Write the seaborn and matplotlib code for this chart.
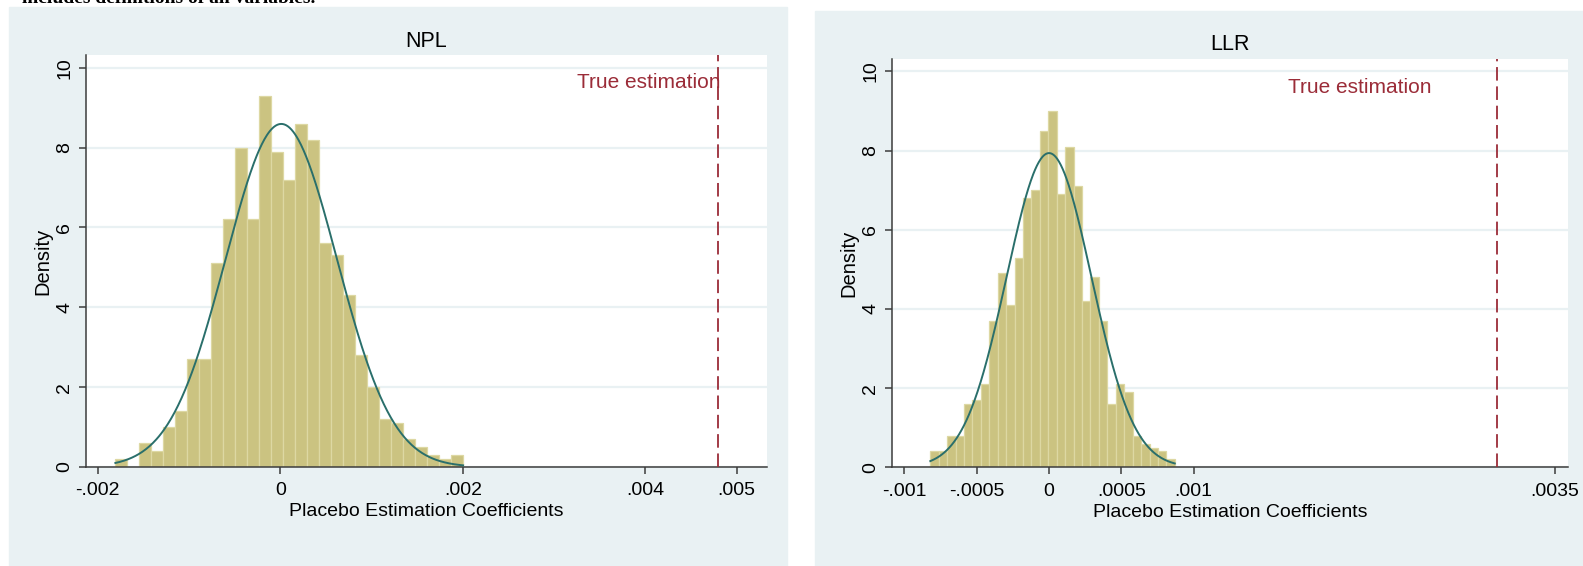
import numpy as np
import pandas as pd
import matplotlib
matplotlib.use('Agg')
import matplotlib.pyplot as plt
import seaborn as sns
from matplotlib.patches import Rectangle

# --- data ------------------------------------------------------------------
# NPL: 29 bins, density per bin
npl_bin_start = -0.001808
npl_bin_width = 0.0001314
npl_density = [0.2, 0.0, 0.6, 0.4, 1.0, 1.4, 2.7, 2.7, 5.1, 6.2,
               8.0, 6.2, 9.3, 7.9, 7.2, 8.6, 8.2, 5.6, 5.3, 4.3,
               2.8, 2.0, 1.2, 1.1, 0.7, 0.5, 0.3, 0.2, 0.3]
npl_mean = 0.00001
npl_sd = 0.00061
npl_true = 0.0048
npl_xticks = [-0.002, 0, 0.002, 0.004, 0.005]
npl_xticklabels = ['-.002', '0', '.002', '.004', '.005']

# LLR: 29 bins, density per bin
llr_bin_start = -0.000821
llr_bin_width = 0.0000583
llr_density = [0.4, 0.4, 0.8, 0.8, 1.6, 1.7, 2.1, 3.7, 4.9, 4.1,
               5.3, 6.8, 7.0, 8.5, 9.0, 6.9, 8.1, 7.1, 4.2, 4.8,
               3.7, 1.6, 2.1, 1.9, 0.8, 0.6, 0.5, 0.4, 0.2]
llr_mean = 0.0
llr_sd = 0.000293
llr_true = 0.0031
llr_xticks = [-0.001, -0.0005, 0, 0.0005, 0.001, 0.0035]
llr_xticklabels = ['-.001', '-.0005', '0', '.0005', '.001', '.0035']

yticks = [0, 2, 4, 6, 8, 10]

# --- style -----------------------------------------------------------------
BG = '#E9F1F3'
BAR = '#CBC381'
EDGE = '#DDD8A3'
CURVE = '#2A6F6B'
RED = '#9B2C38'
AXC = '#3C3C3C'

plt.rcParams['font.family'] = ['Liberation Sans', 'DejaVu Sans']

W, H = 1583, 566
fig = plt.figure(figsize=(W / 100, H / 100), dpi=100, facecolor='white')

# Stata-like graph regions
fig.patches.append(Rectangle((9 / W, 0), (787 - 9) / W, (H - 7) / H,
                             transform=fig.transFigure, color=BG, zorder=-5))
fig.patches.append(Rectangle((815 / W, 0), (W - 815) / W, (H - 11) / H,
                             transform=fig.transFigure, color=BG, zorder=-5))

# cut-off line of body text above the figure
fig.text(22 / W, 1 - 3 / H, 'includes definitions of all variables.',
         family='Liberation Serif', fontsize=14, weight='bold',
         va='baseline', ha='left')

ax1 = fig.add_axes([86 / W, 1 - 467 / H, (767 - 86) / W, (467 - 55) / H])
ax2 = fig.add_axes([892 / W, 1 - 467.3 / H, (1568 - 892) / W, (467.3 - 58.8) / H])


def draw_panel(ax, title, start, width, dens, mean, sd, true_x,
               xticks, xlabels, xlim, txt_x, txt_y, txt_ha):
    nbins = len(dens)
    stop = start + width * nbins
    centers = start + width * (np.arange(nbins) + 0.5)
    df = pd.DataFrame({'coef': centers, 'density': dens})
    sns.histplot(data=df, x='coef', weights='density', bins=nbins,
                 binrange=(start, stop), stat='count', color=BAR,
                 edgecolor=EDGE, linewidth=0.9, alpha=1, ax=ax, zorder=2)

    # normal density overlay (same area as the histogram)
    area = sum(dens) * width
    xs = np.linspace(start, stop, 400)
    ys = area / (sd * np.sqrt(2 * np.pi)) * np.exp(-0.5 * ((xs - mean) / sd) ** 2)
    sns.lineplot(x=xs, y=ys, color=CURVE, linewidth=1.4, ax=ax, zorder=3)

    ax.axvline(true_x, color=RED, linewidth=1.3, dashes=(7.5, 3.2), zorder=4)
    ax.text(txt_x, txt_y, 'True estimation', color=RED, fontsize=15,
            ha=txt_ha, va='center', zorder=5)

    ax.set_xlim(*xlim)
    ax.set_ylim(0, 10.32)
    ax.set_xticks(xticks)
    ax.set_xticklabels(xlabels)
    ax.set_yticks(yticks)
    ax.set_yticklabels([str(v) for v in yticks], rotation=90, va='center')

    ax.set_facecolor('white')
    ax.set_axisbelow(True)
    ax.yaxis.grid(True, color=BG, linewidth=1.6)
    ax.xaxis.grid(False)
    for s in ['top', 'right']:
        ax.spines[s].set_visible(False)
    for s in ['left', 'bottom']:
        ax.spines[s].set_color(AXC)
        ax.spines[s].set_linewidth(1.1)
    ax.tick_params(axis='both', colors=AXC, labelcolor='black', length=5,
                   width=1.1, labelsize=14)
    ax.tick_params(axis='x', pad=6)
    ax.tick_params(axis='y', pad=4)

    ax.set_title(title, fontsize=15.5, pad=6)
    ax.set_xlabel('Placebo Estimation Coefficients', fontsize=14, labelpad=3)
    ax.set_ylabel('Density', fontsize=14.5, labelpad=3)


draw_panel(ax1, 'NPL', npl_bin_start, npl_bin_width, npl_density,
           npl_mean, npl_sd, npl_true, npl_xticks, npl_xticklabels,
           (-0.00213, 0.005333), npl_true + 0.00002, 9.62, 'right')
draw_panel(ax2, 'LLR', llr_bin_start, llr_bin_width, llr_density,
           llr_mean, llr_sd, llr_true, llr_xticks, llr_xticklabels,
           (-0.001086, 0.003589), 0.00215, 9.59, 'center')

fig.savefig('out.png', dpi=100, facecolor='white')
